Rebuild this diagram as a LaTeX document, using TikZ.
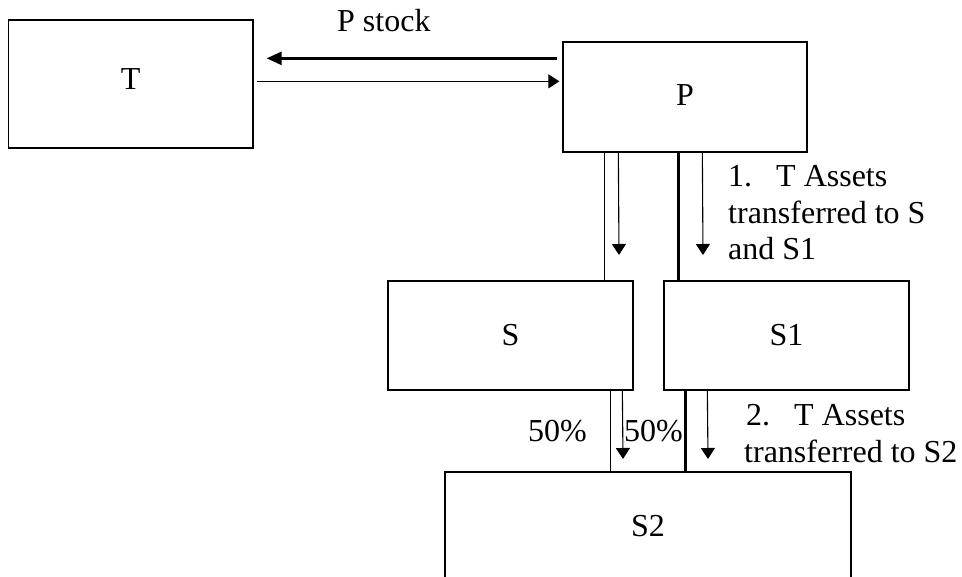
\documentclass[tikz,border=0pt]{standalone}
\usepackage{fontspec}
\setmainfont{Liberation Serif}
\usetikzlibrary{arrows.meta,calc}
\begin{document}
\begin{tikzpicture}[x=1pt,y=-1pt,
  txt/.style={font=\fontsize{32}{36}\selectfont},
  box/.style={draw,line width=1.3pt,inner sep=0pt,minimum width=245pt,minimum height=109pt,txt},
  lbl/.style={inner sep=0pt,anchor=base west,txt},
  thinln/.style={line width=1.1pt},
  thinarr/.style={line width=1.1pt,-{Triangle[length=11pt,width=14pt]}},
  thickln/.style={line width=2.4pt},
  thickarr/.style={line width=2.4pt,-{Triangle[length=15pt,width=13pt]}}]
\useasboundingbox (0,0) rectangle (962,577);

% boxes
\node[box,minimum width=244.5pt,minimum height=128pt,text depth=10pt] (T) at (130.75,84) {T};
\node[box,minimum width=244pt,minimum height=110pt,text depth=3pt] (P) at (685,97) {P};
\node[box] (S) at (510.5,335.5) {S};
\node[box] (S1) at (786.5,335.5) {S1};
\node[box,minimum width=406pt,minimum height=108pt] (S2) at (648,526) {S2};

% free arrow ends
\coordinate (e1) at (619,255);
\coordinate (e2) at (703,255);
\coordinate (e3) at (623,459);
\coordinate (e4) at (708,459);

% P <-> T
\draw[thickarr] ($(P.north west)+(-5,17)$) -- ($(T.north east)+(13,39)$);
\draw[thinarr] ($(T.north east)+(3,62)$) -- ($(P.north west)+(-3,40)$);

% P -> S, S1
\draw[thinln] ($(P.south west)+(42,0)$) -- ($(S.north west)+(217,0)$);
\draw[thinarr] ($(P.south west)+(56,0)$) -- (e1);
\draw[thickln] ($(P.south west)+(116,0)$) -- ($(S1.north west)+(15,0)$);
\draw[thinarr] ($(P.south west)+(140,0)$) -- (e2);

% S, S1 -> S2
\draw[thinln] ($(S.south west)+(223,0)$) -- ($(S2.north west)+(166,0)$);
\draw[thinarr] ($(S.south west)+(235,0)$) -- (e3);
\draw[thickln] ($(S1.south west)+(22,0)$) -- ($(S2.north west)+(241,0)$);
\draw[thinarr] ($(S1.south west)+(44,0)$) -- (e4);

% labels
\node[lbl] (pst) at (337,32) {P stock};
\node[lbl] (n1a) at (728,187) {\makebox[48pt][l]{1.}T Assets};
\node[lbl] (n1b) at (728,224) {transferred to S};
\node[lbl] (n1c) at (728,260) {and S1};
\node[lbl] (n2a) at (746,425) {\makebox[48pt][l]{2.}T Assets};
\node[lbl] (n2b) at (744,462) {transferred to S2};
\node[lbl] (p50a) at (528,442) {50\%};
\node[lbl] (p50b) at (624,442) {50\%};
\end{tikzpicture}
\end{document}
